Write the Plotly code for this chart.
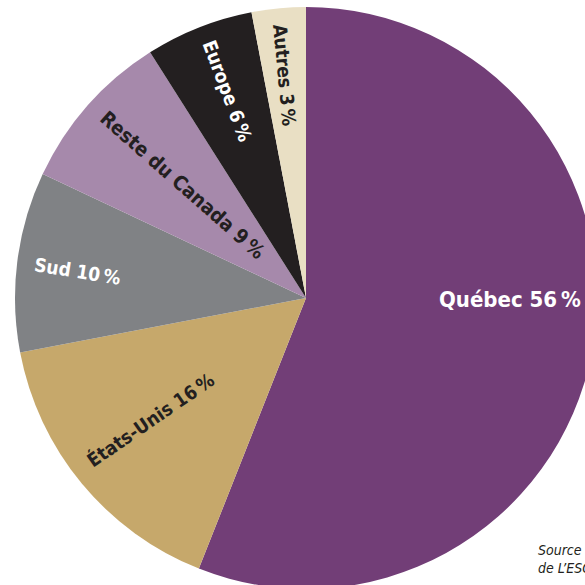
import math
import plotly.graph_objects as go

# ---- data ----
regions = ["Québec", "États-Unis", "Sud", "Reste du Canada", "Europe", "Autres"]
shares = [56, 16, 10, 9, 6, 3]
colors = ["#723e77", "#c6a86b", "#808285", "#a689ab", "#231f20", "#e9dfc4"]
label_colors = ["#ffffff", "#231f20", "#ffffff", "#231f20", "#ffffff", "#231f20"]

# label style: radial fraction, angular nudge (deg), text-angle nudge, font size
label_r = [0.70, 0.68, 0.79, 0.575, 0.76, 0.77]
label_dang = [-10.5, 1.5, -0.5, 1.2, 0.8, 0.0]
label_rot = [None, 5, 2, 0, 1, 0]
label_size = [22, 19, 19, 20, 19, 19]

# figure is a bit larger than the 585 px window: the pie runs off the right/bottom edge
W, H = 600, 595
x0, x1 = 15, 597
y0, y1 = 7, 589
cx, cy = (x0 + x1) / 2, (y0 + y1) / 2
R = min(x1 - x0, y1 - y0) / 2

FONT = "Liberation Sans Narrow, DejaVu Sans Condensed, Roboto, Arial"

fig = go.Figure(
    go.Pie(
        labels=regions,
        values=shares,
        sort=False,
        direction="clockwise",
        rotation=0,
        marker=dict(colors=colors, line=dict(width=0)),
        textinfo="none",
        hoverinfo="label+percent",
        domain=dict(x=[x0 / W, x1 / W], y=[1 - y1 / H, 1 - y0 / H]),
        showlegend=False,
    )
)

total = sum(shares)
cum = 0
annotations = []
for i, (name, v) in enumerate(zip(regions, shares)):
    mid = (cum + v / 2) / total * 360
    cum += v
    ang = math.radians(mid + label_dang[i])
    px = cx + label_r[i] * R * math.sin(ang)
    py = cy - label_r[i] * R * math.cos(ang)
    ta = 0 if label_rot[i] is None else mid - 270 + label_rot[i]
    annotations.append(
        dict(
            x=px / W, y=1 - py / H, xref="paper", yref="paper",
            text=f"<b>{name} {v}\u202f%</b>",
            showarrow=False, textangle=ta,
            font=dict(family=FONT, size=label_size[i], color=label_colors[i]),
            xanchor="center", yanchor="middle",
        )
    )

annotations.append(
    dict(
        x=536 / W, y=1 - 540 / H, xref="paper", yref="paper",
        text="<i>Source</i><br><i>de L’ESG</i>",
        showarrow=False, align="left", xanchor="left", yanchor="top",
        font=dict(family=FONT, size=14, color="#231f20"),
    )
)

fig.update_layout(
    width=W, height=H,
    margin=dict(l=0, r=0, t=0, b=0),
    paper_bgcolor="white", plot_bgcolor="white",
    annotations=annotations,
)

fig.write_html(
    "out.html",
    config={"displayModeBar": False},
    post_script="document.body.style.margin='0';document.body.style.overflow='hidden';",
)
